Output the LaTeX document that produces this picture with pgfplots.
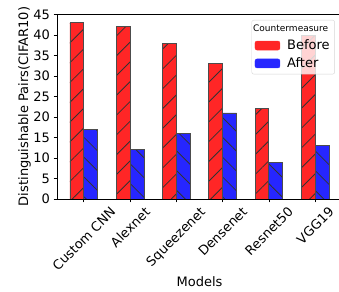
\documentclass[border=0pt]{standalone}
\usepackage{pgfplots}
\pgfplotsset{compat=1.18}
\usepackage{fontspec}
\setmainfont{DejaVu Sans}
\usetikzlibrary{patterns.meta}
\definecolor{barred}{RGB}{255,38,38}
\definecolor{barblue}{RGB}{38,38,255}
\begin{document}
\begin{tikzpicture}
\useasboundingbox (0,0) rectangle (339pt,291pt);
\begin{axis}[
  at={(57pt,92pt)}, anchor=south west,
  width=285pt, height=185pt, scale only axis,
  xmin=-0.58, xmax=5.58, ymin=0, ymax=45.15,
  axis x line=box, axis y line=left, axis line style={-, line width=0.8pt},
  xtick={0,1,2,3,4,5},
  xticklabels={\rotatebox{45}{Custom CNN},\rotatebox{45}{Alexnet},\rotatebox{45}{Squeezenet},\rotatebox{45}{Densenet},\rotatebox{45}{Resnet50},\rotatebox{45}{VGG19}},
  ytick={0,5,...,45},
  tick align=outside, tick pos=left,
  major tick length=3.5pt,
  every tick/.style={black, line width=0.8pt},
  /pgf/number format/assume math mode=true,
  ticklabel style={font=\fontsize{13}{15}\selectfont},
  xticklabel style={anchor=north, inner sep=0pt, yshift=-3.5pt},
  yticklabel style={inner sep=0pt, xshift=-3.5pt},
  xlabel={Models}, ylabel={Distinguishable Pairs(CIFAR10)},
  label style={font=\fontsize{13}{15}\selectfont},
  ylabel style={yshift=-1pt},
  xlabel style={yshift=-2pt},
  bar width=0.3,
  legend style={at={(0.975,0.9676)}, anchor=north east,
    draw=black!20, rounded corners=2pt, fill=white, fill opacity=0.8, draw opacity=0.8, text opacity=1,
    font=\fontsize{13}{15}\selectfont, row sep=2.5pt, column sep=5pt, inner sep=3pt},
  legend cell align=left,
]
\addlegendimage{empty legend}
\addlegendentry{\hspace*{-34pt}\fontsize{9}{10}\selectfont Countermeasure}
\addplot[ybar, bar shift=-0.15, fill=barred, draw=black!70, line width=0.9pt,
  postaction={pattern={Lines[angle=45,distance=14pt,line width=0.8pt]}, pattern color=black!80}, forget plot]
  coordinates {(0,43) (1,42) (2,38) (3,33) (4,22) (5,40)};
\addplot[ybar, bar shift=0.15, fill=barblue, draw=black!70, line width=0.9pt,
  postaction={pattern={Lines[angle=-45,distance=14pt,line width=0.8pt]}, pattern color=black!80}, forget plot]
  coordinates {(0,17) (1,12) (2,16) (3,21) (4,9) (5,13)};
\addlegendimage{legend image code/.code={\fill[barred, fill opacity=1] (0pt,-4.5pt) rectangle (25pt,4.5pt);}}
\addlegendentry{Before}
\addlegendimage{legend image code/.code={\fill[barblue, fill opacity=1] (0pt,-4.5pt) rectangle (25pt,4.5pt);}}
\addlegendentry{After}
\end{axis}
\end{tikzpicture}
\end{document}
